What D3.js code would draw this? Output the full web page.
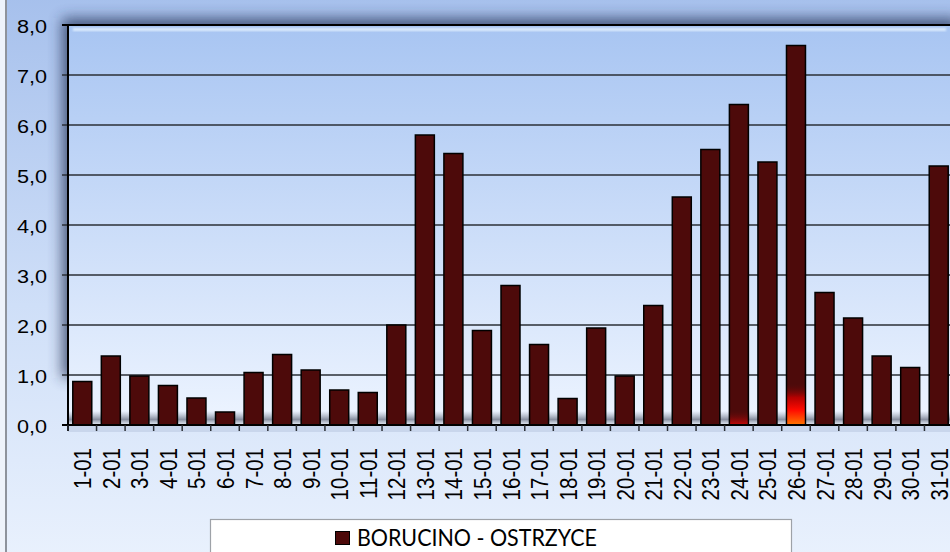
<!DOCTYPE html>
<html lang="pl">
<head>
<meta charset="UTF-8">
<title>BORUCINO - OSTRZYCE</title>
<script src="https://d3js.org/d3.v7.min.js"></script>
<style>
  html, body { margin: 0; padding: 0; background: #eef3fb; overflow: hidden; }
  svg { display: block; }
</style>
</head>
<body>
<div id="chart"></div>
<script>
// data
const days = ["1-01","2-01","3-01","4-01","5-01","6-01","7-01","8-01","9-01","10-01",
              "11-01","12-01","13-01","14-01","15-01","16-01","17-01","18-01","19-01","20-01",
              "21-01","22-01","23-01","24-01","25-01","26-01","27-01","28-01","29-01","30-01","31-01"];
const values = [0.87, 1.38, 0.98, 0.79, 0.54, 0.26, 1.05, 1.41, 1.10, 0.70,
                0.65, 2.00, 5.80, 5.43, 1.89, 2.79, 1.61, 0.53, 1.94, 0.98,
                2.39, 4.56, 5.51, 6.41, 5.26, 7.59, 2.65, 2.14, 1.38, 1.15, 5.18];
const yTicks = [0, 1, 2, 3, 4, 5, 6, 7, 8];
const seriesName = "BORUCINO - OSTRZYCE";

// style only: bottom glow seen on two bars
const glow = {
  "24-01": { h: 16, stops: [["0%", "#4d0a0a", 0], ["100%", "#c00808", 1]] },
  "26-01": { h: 42, stops: [["0%", "#4d0a0a", 0], ["35%", "#c00000", 0.9], ["65%", "#ff0a00", 1], ["100%", "#ff7200", 1]] }
};

const W = 950, H = 552;
const margin = { left: 68, top: 25 };
const plotRight = 953, plotBottom = 425;
const barColor = "#4d0a0a";

const svg = d3.select("#chart").append("svg")
  .attr("width", W).attr("height", H);
const defs = svg.append("defs");

function vGrad(id, stops) {
  const g = defs.append("linearGradient").attr("id", id)
    .attr("x1", 0).attr("y1", 0).attr("x2", 0).attr("y2", 1);
  stops.forEach(s => g.append("stop").attr("offset", s[0])
    .attr("stop-color", s[1]).attr("stop-opacity", s[2] == null ? 1 : s[2]));
}
vGrad("bgGrad", [["0%", "#a6c0ec"], ["55%", "#cfdff8"], ["100%", "#e9f1fd"]]);
vGrad("plotGrad", [["0%", "#a8c5f2"], ["100%", "#edf4ff"]]);
vGrad("floorGrad", [["0%", "#8a92a4", 0], ["65%", "#6f7789", 0.8], ["100%", "#c8ceda", 0.6]]);
Object.keys(glow).forEach((k, i) => vGrad("glow" + i, glow[k].stops));

const blur = defs.append("filter").attr("id", "shadow")
  .attr("x", "-10%").attr("y", "-20%").attr("width", "120%").attr("height", "140%");
blur.append("feGaussianBlur").attr("stdDeviation", 7);
const soft = defs.append("filter").attr("id", "soft");
soft.append("feGaussianBlur").attr("stdDeviation", 0.8);

// chart area background and frame
svg.append("rect").attr("x", 6).attr("y", -4).attr("width", W + 10).attr("height", H + 10)
  .attr("fill", "url(#bgGrad)").attr("stroke", "#8e939c").attr("stroke-width", 2);

// scales
const x = d3.scaleBand().domain(days).range([margin.left, plotRight])
  .paddingInner(0.335).paddingOuter(0.1675);
const y = d3.scaleLinear().domain([0, 8]).range([plotBottom, margin.top]);
const gap = x.step() - x.bandwidth();

// plot area shadow, fill, highlight
svg.append("rect")
  .attr("x", margin.left - 6).attr("y", margin.top - 7)
  .attr("width", plotRight - margin.left + 12).attr("height", plotBottom - margin.top - 40)
  .attr("fill", "#26345a").attr("opacity", 0.75).attr("filter", "url(#shadow)");
svg.append("rect")
  .attr("x", margin.left).attr("y", margin.top)
  .attr("width", plotRight - margin.left).attr("height", plotBottom - margin.top)
  .attr("fill", "url(#plotGrad)");
svg.append("rect")
  .attr("x", margin.left + 5).attr("y", margin.top + 3)
  .attr("width", plotRight - margin.left - 12).attr("height", 3)
  .attr("fill", "#e4f2ff").attr("opacity", 0.9).attr("filter", "url(#soft)");
svg.append("rect")
  .attr("x", margin.left).attr("y", plotBottom)
  .attr("width", plotRight - margin.left).attr("height", 7)
  .attr("fill", "#c9d6ec");

// floor shading
svg.append("rect")
  .attr("x", margin.left + 1).attr("y", plotBottom - 14)
  .attr("width", plotRight - margin.left).attr("height", 13)
  .attr("fill", "url(#floorGrad)");

// gridlines + y ticks
svg.append("g").selectAll("line").data(yTicks.filter(d => d > 0)).join("line")
  .attr("x1", margin.left - 6).attr("x2", plotRight)
  .attr("y1", d => y(d)).attr("y2", d => y(d))
  .attr("stroke", d => d === 8 ? "#000" : "#2b2f36")
  .attr("stroke-width", d => d === 8 ? 2 : 1.6);

// bars
const bars = svg.append("g");
bars.selectAll("rect").data(days).join("rect")
  .attr("x", d => x(d)).attr("width", x.bandwidth())
  .attr("y", (d, i) => y(values[i]))
  .attr("height", (d, i) => y(0) - y(values[i]))
  .attr("fill", barColor).attr("stroke", "#000").attr("stroke-width", 1.5);

Object.keys(glow).forEach((k, i) => {
  bars.append("rect")
    .attr("x", x(k) + 0.75).attr("width", x.bandwidth() - 1.5)
    .attr("y", y(0) - glow[k].h).attr("height", glow[k].h - 0.75)
    .attr("fill", "url(#glow" + i + ")");
});

// axes lines
svg.append("line").attr("x1", margin.left - 6).attr("x2", plotRight)
  .attr("y1", y(0)).attr("y2", y(0)).attr("stroke", "#000").attr("stroke-width", 2);
svg.append("line").attr("x1", margin.left).attr("x2", margin.left)
  .attr("y1", margin.top - 1).attr("y2", y(0) + 6).attr("stroke", "#000").attr("stroke-width", 2);

// x ticks at category boundaries
svg.append("g").selectAll("line").data(days).join("line")
  .attr("x1", d => x(d) - gap / 2).attr("x2", d => x(d) - gap / 2)
  .attr("y1", y(0)).attr("y2", y(0) + 6)
  .attr("stroke", "#2b2f36").attr("stroke-width", 1.5);

// y labels
svg.append("g").selectAll("text").data(yTicks).join("text")
  .attr("transform", d => `translate(47,${y(d) + 7.5}) scale(1.14,1)`)
  .attr("text-anchor", "end")
  .attr("font-family", "Liberation Sans, Arial, sans-serif")
  .attr("font-size", 19)
  .attr("fill", "#000")
  .text(d => d.toFixed(1).replace(".", ","));

// x labels (last one runs off the right edge, as in the original)
svg.append("g").selectAll("text").data(days).join("text")
  .attr("transform", d => `translate(${x(d) + x.bandwidth() / 2 + 9},448) scale(1.2,1) rotate(-90)`)
  .attr("text-anchor", "end")
  .attr("font-family", "Liberation Sans, Arial, sans-serif")
  .attr("font-size", 20.5)
  .attr("fill", "#000")
  .text(d => d);

// legend
const lg = svg.append("g");
lg.append("rect").attr("x", 210.5).attr("y", 519.5).attr("width", 581).attr("height", 50)
  .attr("fill", "#fff").attr("stroke", "#9ea2a8").attr("stroke-width", 1.2);
lg.append("rect").attr("x", 335.5).attr("y", 531.5).attr("width", 14).attr("height", 13)
  .attr("fill", barColor).attr("stroke", "#000").attr("stroke-width", 1);
lg.append("text").attr("x", 357).attr("y", 546)
  .attr("font-family", "Lato, 'Open Sans', sans-serif")
  .attr("font-size", 23)
  .attr("textLength", 240).attr("lengthAdjust", "spacingAndGlyphs")
  .attr("fill", "#000")
  .text(seriesName);
</script>
</body>
</html>
